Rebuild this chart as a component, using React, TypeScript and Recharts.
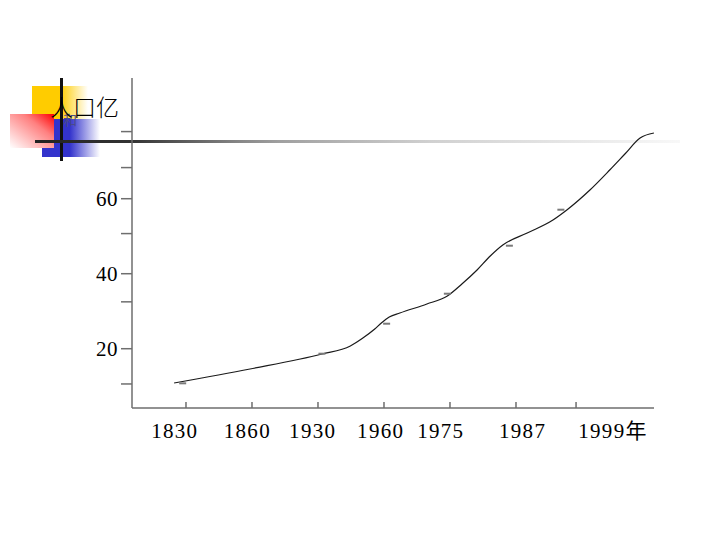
import React from 'react';
import { ComposedChart, Line, Scatter, XAxis, YAxis } from 'recharts';

// x positions are in "tick slot" units (tick 1830 = 0), y values in 亿
const curveX = [-0.18, 0.97, 2.06, 2.49, 2.68, 2.86, 2.96, 3.08, 3.24, 3.65, 3.96, 4.18, 4.41, 4.61, 4.8, 5.17, 5.56, 5.77, 6.12, 6.42, 6.65, 6.88, 7.09];
const curveY = [10.85, 14.59, 18.59, 20.72, 22.85, 25.25, 26.85, 28.45, 29.52, 31.92, 34.05, 37.25, 40.99, 44.72, 47.65, 50.85, 54.32, 56.99, 62.32, 67.65, 71.92, 76.19, 77.52];

const markX = [-0.05, 2.06, 3.04, 3.96, 4.9, 5.68];
const markY = [10.77, 18.67, 26.67, 34.67, 47.47, 57.07];

const xTickPos = [0, 1, 2, 3, 4, 5, 5.91];
const xLabelPos = [-0.17, 0.93, 1.92, 2.95, 3.86, 5.1, 6.47];
const xLabels = ['1830', '1860', '1930', '1960', '1975', '1987', '1999年'];
const xDomain = [-0.818, 7.091];

const yTicks = [10.6, 20, 32.5, 40, 50.7, 60, 68.3, 77.9];
const yLabeled = [20, 40, 60];
const yDomain = [4.19, 92.19];

const curveData = curveX.map((x, i) => ({ x, y: curveY[i] }));
const markData = markX.map((x, i) => ({ x, y: markY[i] }));

const AXIS = '#6e6e6e';
const NUM_FONT = '"Liberation Serif", "Noto Sans CJK SC", serif';

const Dash = (p: any) => (
  <rect x={p.cx - 3.5} y={p.cy - 1} width={7} height={2} fill="#7a7a7a" />
);

export default function App() {
  return (
    <div style={{ position: 'absolute', left: 0, top: 0, width: 720, height: 540, background: '#fff', overflow: 'hidden' }}>
      {/* slide template decoration (behind the chart) */}
      <div style={{ position: 'absolute', left: 32, top: 86, width: 56, height: 40, background: 'linear-gradient(to right, #FFCC00 0%, #FFCC00 50%, #ffffff 100%)' }} />
      <div style={{ position: 'absolute', left: 42, top: 119, width: 58, height: 38, background: 'linear-gradient(to right, #3333CC 0%, #3333CC 48%, #ffffff 100%)' }} />
      <div style={{ position: 'absolute', left: 10, top: 114, width: 44, height: 34, background: 'linear-gradient(to bottom left, #ff0000 0%, #ff8080 35%, #ffffff 100%)' }} />
      <div style={{ position: 'absolute', left: 59.5, top: 78, width: 3, height: 83, background: '#111' }} />
      <div style={{ position: 'absolute', left: 35, top: 140, width: 645, height: 3, background: 'linear-gradient(to right, #222 0%, #333 15%, #888 32%, #a0a0a0 38%, #d0d0d0 61%, #f8f8f8 100%)' }} />
      <div style={{ position: 'absolute', left: 63, top: 112, fontSize: 14, lineHeight: '14px', color: '#4a4a8a', fontFamily: '"Noto Sans CJK SC", sans-serif' }}>和</div>
      <div style={{ position: 'absolute', left: 50, top: 95, fontSize: 23, lineHeight: '23px', color: '#000', fontFamily: '"Noto Sans CJK SC", sans-serif', fontWeight: 300 }}>人口亿</div>

      <div style={{ position: 'absolute', left: 0, top: 0 }}>
        <ComposedChart
          width={720}
          height={540}
          margin={{ top: 78, right: 66, bottom: 92, left: 72 }}
        >
          <XAxis
            xAxisId="labels"
            type="number"
            dataKey="x"
            domain={xDomain}
            allowDataOverflow
            ticks={xLabelPos}
            interval={0}
            height={40}
            axisLine={false}
            tickLine={false}
            tickSize={0}
            tickMargin={15}
            tickFormatter={(_v: any, i: number) => xLabels[i]}
            tick={{ fill: '#000', fontSize: 21, fontFamily: NUM_FONT, letterSpacing: 1.3 }}
          />
          <XAxis
            xAxisId="marks"
            type="number"
            dataKey="x"
            domain={xDomain}
            allowDataOverflow
            ticks={xTickPos}
            interval={0}
            mirror
            height={1}
            tickFormatter={() => ''}
            tickSize={6}
            tickLine={{ stroke: AXIS, strokeWidth: 1.5 }}
            stroke={AXIS}
            strokeWidth={1.5}
          />
          <YAxis
            type="number"
            dataKey="y"
            domain={yDomain}
            allowDataOverflow
            ticks={yTicks}
            interval={0}
            width={60}
            tickSize={11}
            tickMargin={3}
            stroke={AXIS}
            strokeWidth={1.5}
            tickFormatter={(v: number) => (yLabeled.includes(v) ? String(v) : '')}
            tick={{ fill: '#000', fontSize: 21, fontFamily: NUM_FONT, letterSpacing: 0.5 }}
          />
          <Line
            xAxisId="marks"
            data={curveData}
            dataKey="y"
            type="monotone"
            stroke="#1a1a1a"
            strokeWidth={1.2}
            dot={false}
            activeDot={false}
            isAnimationActive={false}
          />
          <Scatter
            xAxisId="labels"
            data={markData}
            dataKey="y"
            shape={Dash}
            isAnimationActive={false}
          />
        </ComposedChart>
      </div>
    </div>
  );
}
